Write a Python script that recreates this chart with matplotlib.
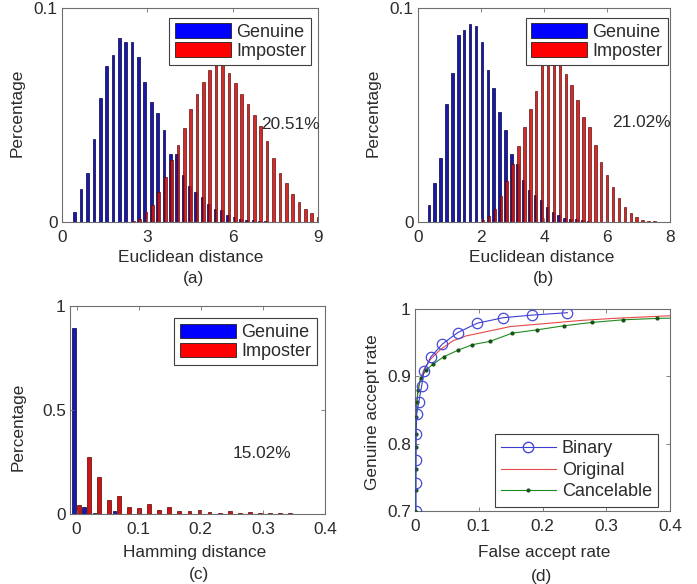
import numpy as np
import matplotlib
matplotlib.use('Agg')
from matplotlib import pyplot as plt
from matplotlib.patches import Patch
from matplotlib.lines import Line2D

plt.rcParams['font.family'] = ['Liberation Sans', 'DejaVu Sans']
plt.rcParams['font.size'] = 12.4
TXT = '#2b2b2b'
FRAME = '#6e6e6e'

# ---- (a) euclidean distance histogram, original features
a_bins = np.linspace(0.47, 8.98, 39)
a_genuine = [0.0047, 0.0156, 0.023, 0.039, 0.058, 0.0727, 0.078, 0.086, 0.084, 0.084,
             0.077, 0.0656, 0.056, 0.051, 0.043, 0.0317, 0.0317, 0.022, 0.0169, 0.014,
             0.0117, 0.0086, 0.0063, 0.0055, 0.0031, 0.0022, 0.0016, 0.0011, 0.0008, 0.0005,
             0.0003, 0.0002, 0.0001, 0, 0, 0, 0, 0, 0]
a_imposter = [0, 0, 0, 0, 0, 0, 0, 0, 0, 0.0003,
              0.0016, 0.0047, 0.0078, 0.014, 0.021, 0.029, 0.036, 0.0437, 0.053, 0.060,
              0.0656, 0.071, 0.0735, 0.0735, 0.0695, 0.065, 0.060, 0.055, 0.050, 0.045,
              0.038, 0.030, 0.023, 0.018, 0.013, 0.0095, 0.006, 0.004, 0.0025]

# ---- (b) euclidean distance histogram, cancelable features
b_bins = np.linspace(0.36, 7.86, 41)
b_genuine = [0.0078, 0.018, 0.030, 0.055, 0.0695, 0.0875, 0.0895, 0.0927, 0.0917, 0.084,
             0.071, 0.0625, 0.0516, 0.043, 0.032, 0.027, 0.0195, 0.0148, 0.0125, 0.0102,
             0.007, 0.0047, 0.0031, 0.002, 0.0012, 0.0012, 0.0008, 0.0003, 0.0002, 0.0001,
             0, 0, 0, 0, 0, 0, 0, 0, 0, 0, 0]
b_imposter = [0, 0, 0, 0, 0, 0, 0, 0, 0, 0.0008,
              0.0027, 0.006, 0.012, 0.019, 0.027, 0.0355, 0.0445, 0.053, 0.0614, 0.0745,
              0.0785, 0.079, 0.0755, 0.069, 0.064, 0.057, 0.049, 0.0445, 0.036, 0.028,
              0.022, 0.0164, 0.011, 0.007, 0.0042, 0.0023, 0.0011, 0.0005, 0.0003, 0.0001, 0]

# ---- (c) hamming distance histogram, binary features
c_bins = np.linspace(0.0, 0.3726, 24)
c_genuine = [0.893, 0.032, 0.004, 0.002, 0.016, 0.002, 0.001, 0.002, 0.001, 0.001,
             0, 0, 0, 0, 0, 0, 0, 0, 0, 0, 0, 0, 0, 0]
c_imposter = [0.043, 0.276, 0.18, 0.067, 0.088, 0.032, 0.027, 0.048, 0.019, 0.032,
              0.013, 0.013, 0.019, 0.010, 0.006, 0.014, 0.005, 0.010, 0.004, 0.004,
              0.007, 0.003, 0.002, 0.002]

eer_text = ['20.51%', '21.02%', '15.02%']

# ---- (d) ROC curves
bin_far = [0.0016, 0.0016, 0.0016, 0.0016, 0.0027, 0.006, 0.0105, 0.014, 0.025, 0.043,
           0.067, 0.098, 0.138, 0.184, 0.239]
bin_gar = [0.700, 0.741, 0.776, 0.814, 0.844, 0.862, 0.886, 0.908, 0.929, 0.948,
           0.965, 0.979, 0.987, 0.991, 0.9945]
orig_far = [0.0, 0.001, 0.002, 0.004, 0.008, 0.015, 0.025, 0.04, 0.06, 0.08,
            0.10, 0.15, 0.20, 0.26, 0.31, 0.40]
orig_gar = [0.70, 0.80, 0.85, 0.875, 0.895, 0.912, 0.926, 0.940, 0.953, 0.960,
            0.964, 0.974, 0.978, 0.983, 0.986, 0.990]
canc_far = [0.0005, 0.0008, 0.001, 0.0012, 0.0015, 0.002, 0.003, 0.005, 0.009, 0.017,
            0.028, 0.045, 0.068, 0.090, 0.118, 0.152, 0.191, 0.233, 0.277, 0.327,
            0.379, 0.43]
canc_gar = [0.700, 0.731, 0.762, 0.795, 0.815, 0.840, 0.862, 0.880, 0.897, 0.909,
            0.918, 0.929, 0.939, 0.947, 0.952, 0.964, 0.969, 0.975, 0.980, 0.984,
            0.986, 0.987]

W, H = 697, 584
fig = plt.figure(figsize=(W / 100, H / 100), dpi=100)

BLUE_F, BLUE_E = '#1a1aa6', '#00004a'
RED_F, RED_E = '#cc1414', '#580000'


def add_axes(l, t, r, b):
    ax = fig.add_axes([l / W, 1 - b / H, (r - l) / W, (b - t) / H])
    for s in ax.spines.values():
        s.set_color(FRAME)
        s.set_linewidth(0.8)
    ax.tick_params(direction='in', top=True, right=True, length=3, width=0.6,
                   color=FRAME, labelcolor=TXT, labelsize=12.4)
    ax.tick_params(axis='x', pad=6)
    ax.tick_params(axis='y', pad=3)
    return ax


def ftext(x, y, s, rot=0):
    fig.text(x / W, 1 - y / H, s, ha='center', va='center', rotation=rot, color=TXT, fontsize=12.4)


def hist_pair(ax, bins, gen, imp, shift=0.1, width=0.42):
    d = bins[1] - bins[0]
    ax.bar(bins - shift * d, gen, width=width * d, color=BLUE_F, edgecolor=BLUE_E, linewidth=0.5)
    ax.bar(bins + shift * d, imp, width=width * d, color=RED_F, edgecolor=RED_E,
           linewidth=0.5, alpha=0.9)


def hist_legend(ax, anchor):
    h = [Patch(facecolor='#0000ff', edgecolor='#202020', linewidth=0.6, label='Genuine'),
         Patch(facecolor='#ff0000', edgecolor='#202020', linewidth=0.6, label='Imposter')]
    leg = ax.legend(handles=h, loc='upper right', bbox_to_anchor=anchor, borderaxespad=0,
                    fancybox=False, framealpha=1, edgecolor='#404040', handlelength=3.1,
                    handleheight=0.85, handletextpad=0.3, labelspacing=0.08, borderpad=0.3,
                    fontsize=13)
    leg.get_frame().set_linewidth(0.8)
    for t in leg.get_texts():
        t.set_color(TXT)


# (a)
ax = add_axes(62, 8, 318, 222)
hist_pair(ax, a_bins, a_genuine, a_imposter)
ax.set_xlim(0, 9)
ax.set_ylim(0, 0.1)
ax.set_xticks([0, 3, 6, 9])
ax.set_yticks([0, 0.1])
ax.set_yticklabels(['0', '0.1'])
ax.text(7.0, 0.0457, eer_text[0], ha='left', va='center', color=TXT)
hist_legend(ax, (0.974, 0.953))
ftext(191, 258, 'Euclidean distance')
ftext(193, 279, '(a)')
ftext(17, 113, 'Percentage', 90)

# (b)
ax = add_axes(418, 8, 670, 222)
hist_pair(ax, b_bins, b_genuine, b_imposter)
ax.set_xlim(0, 8)
ax.set_ylim(0, 0.1)
ax.set_xticks([0, 2, 4, 6, 8])
ax.set_yticks([0, 0.1])
ax.set_yticklabels(['0', '0.1'])
ax.text(6.16, 0.0463, eer_text[1], ha='left', va='center', color=TXT)
hist_legend(ax, (0.991, 0.953))
ftext(542, 258, 'Euclidean distance')
ftext(543, 279, '(b)')
ftext(373, 113, 'Percentage', 90)

# (c)
ax = add_axes(70, 306, 325, 514)
d = c_bins[1] - c_bins[0]
ax.bar(c_bins - 0.22 * d, c_genuine, width=0.38 * d, color=BLUE_F, edgecolor=BLUE_E, linewidth=0.5)
ax.bar(c_bins + 0.22 * d, c_imposter, width=0.38 * d, color=RED_F, edgecolor=RED_E, linewidth=0.5)
ax.set_xlim(-0.0105, 0.4)
ax.set_ylim(0, 1)
ax.set_xticks([0, 0.1, 0.2, 0.3, 0.4])
ax.set_xticklabels(['0', '0.1', '0.2', '0.3', '0.4'])
ax.set_yticks([0, 0.5, 1])
ax.set_yticklabels(['0', '0.5', '1'])
ax.text(0.252, 0.292, eer_text[2], ha='left', va='center', color=TXT)
hist_legend(ax, (0.967, 0.941))
ftext(195, 553, 'Hamming distance')
ftext(199, 575, '(c)')
ftext(18, 427, 'Percentage', 90)

# (d)
ax = add_axes(415, 309, 670, 511)
ax.plot(orig_far, orig_gar, color='#e84848', linewidth=0.8, label='Original', zorder=2)
ax.plot(canc_far, canc_gar, color='#1f8a1f', linewidth=0.8, marker='.', markersize=4,
        markerfacecolor='#145214', markeredgecolor='#145214', label='Cancelable', zorder=3)
ax.plot(bin_far, bin_gar, color='#3c3cd0', linewidth=0.8, marker='o', markersize=7.5,
        markerfacecolor='none', markeredgecolor='#4848d8', markeredgewidth=0.9, label='Binary', zorder=4)
ax.set_xlim(0, 0.4)
ax.set_ylim(0.7, 1)
ax.set_xticks([0, 0.1, 0.2, 0.3, 0.4])
ax.set_xticklabels(['0', '0.1', '0.2', '0.3', '0.4'])
ax.set_yticks([0.7, 0.8, 0.9, 1])
ax.set_yticklabels(['0.7', '0.8', '0.9', '1'])
handles = [Line2D([], [], color='#3c3cd0', linewidth=0.8, marker='o', markersize=7.5,
                  markerfacecolor='none', markeredgecolor='#4848d8'),
           Line2D([], [], color='#e84848', linewidth=0.8),
           Line2D([], [], color='#1f8a1f', linewidth=0.8, marker='.', markersize=4,
                  markerfacecolor='#145214', markeredgecolor='#145214')]
leg = ax.legend(handles, ['Binary', 'Original', 'Cancelable'], loc='lower right',
                bbox_to_anchor=(0.954, 0.021), borderaxespad=0, fancybox=False, framealpha=1,
                edgecolor='#404040', handlelength=3.0, handletextpad=0.35, labelspacing=0.25,
                borderpad=0.35, fontsize=13)
leg.get_frame().set_linewidth(0.8)
for t in leg.get_texts():
    t.set_color(TXT)
ftext(544, 553, 'False accept rate')
ftext(542, 577, '(d)')
ftext(373, 412, 'Genuine accept rate', 90)

fig.savefig('out.png', dpi=100, facecolor='white')
